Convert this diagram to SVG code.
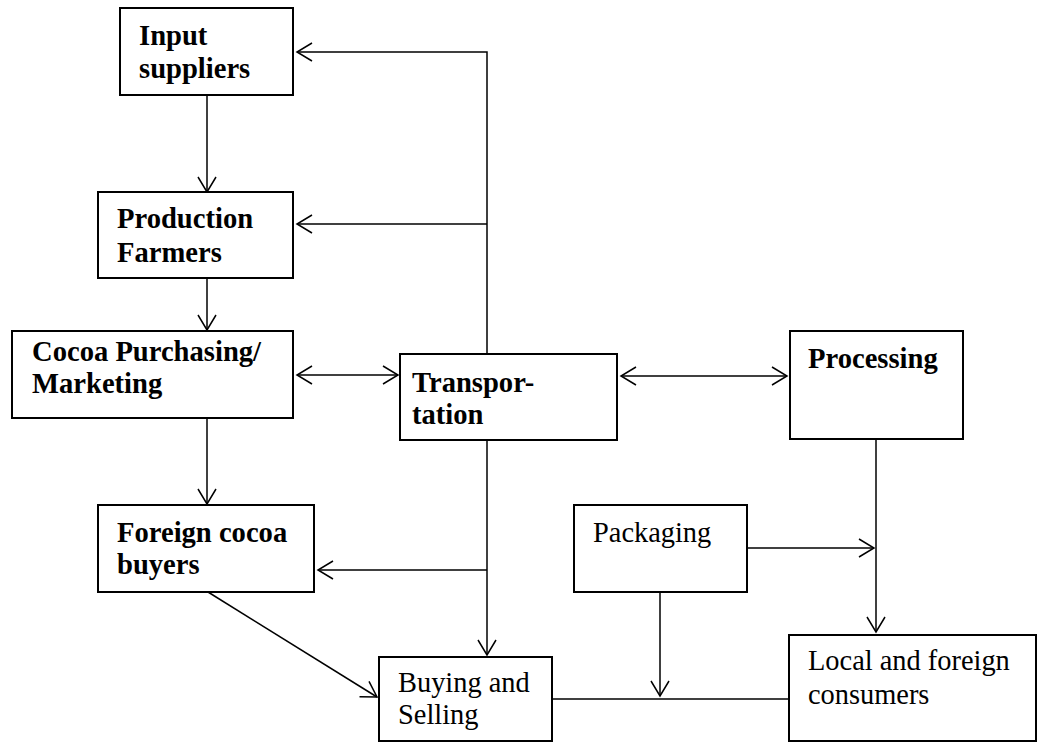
<svg xmlns="http://www.w3.org/2000/svg" width="1040" height="743" viewBox="0 0 1040 743">
  <style>
    .box { fill: #fff; stroke: #000; stroke-width: 2; }
    .b { font-family: "Liberation Serif", "Times New Roman", serif; font-size: 28.6px; font-weight: bold; fill: #000; }
    .r { font-family: "Liberation Serif", "Times New Roman", serif; font-size: 28.4px; fill: #000; }
    .ln { fill: none; stroke: #000; stroke-width: 1.5; }
  </style>
  <defs>
    <marker id="arr" markerUnits="userSpaceOnUse" markerWidth="20" markerHeight="20" viewBox="-16 -10 18 20" refX="0" refY="0" orient="auto-start-reverse">
      <path d="M-15,-9 L0,0 L-15,9" fill="none" stroke="#000" stroke-width="1.5"/>
    </marker>
  </defs>
  <rect width="1040" height="743" fill="#fff"/>

  <g id="connectors">
    <!-- supply chain down the left column -->
    <line class="ln" x1="207" y1="95" x2="207" y2="192" marker-end="url(#arr)"/>
    <line class="ln" x1="207" y1="278" x2="207" y2="330" marker-end="url(#arr)"/>
    <line class="ln" x1="207" y1="418" x2="207" y2="504" marker-end="url(#arr)"/>
    <!-- transportation trunk upward with branches -->
    <polyline class="ln" points="487,354 487,52 297,52" marker-end="url(#arr)"/>
    <line class="ln" x1="487" y1="224" x2="297" y2="224" marker-end="url(#arr)"/>
    <!-- two-way links -->
    <line class="ln" x1="297" y1="375" x2="398" y2="375" marker-start="url(#arr)" marker-end="url(#arr)"/>
    <line class="ln" x1="621" y1="376" x2="787" y2="376" marker-start="url(#arr)" marker-end="url(#arr)"/>
    <!-- transportation trunk downward -->
    <line class="ln" x1="487" y1="440" x2="487" y2="655" marker-end="url(#arr)"/>
    <line class="ln" x1="487" y1="570" x2="318" y2="570" marker-end="url(#arr)"/>
    <!-- foreign buyers to buying and selling -->
    <line class="ln" x1="208" y1="592" x2="377" y2="697" marker-end="url(#arr)"/>
    <!-- processing to consumers -->
    <line class="ln" x1="876" y1="439" x2="876" y2="632" marker-end="url(#arr)"/>
    <line class="ln" x1="747" y1="548" x2="874" y2="548" marker-end="url(#arr)"/>
    <!-- packaging into the market line -->
    <line class="ln" x1="660" y1="592" x2="660" y2="696" marker-end="url(#arr)"/>
    <line class="ln" x1="552" y1="699" x2="789" y2="699"/>
  </g>

  <g id="input-suppliers">
    <rect class="box" x="120" y="8" width="173" height="87"/>
    <text class="b" x="139" y="45">Input</text>
    <text class="b" x="139" y="78">suppliers</text>
  </g>
  <g id="production-farmers">
    <rect class="box" x="98" y="192" width="195" height="86"/>
    <text class="b" x="117" y="228">Production</text>
    <text class="b" x="117" y="262">Farmers</text>
  </g>
  <g id="cocoa-purchasing">
    <rect class="box" x="12" y="331" width="281" height="87"/>
    <text class="b" x="32" y="361">Cocoa Purchasing/</text>
    <text class="b" x="32" y="393">Marketing</text>
  </g>
  <g id="transportation">
    <rect class="box" x="400" y="354" width="217" height="86"/>
    <text class="b" x="412" y="392">Transpor-</text>
    <text class="b" x="412" y="424">tation</text>
  </g>
  <g id="processing">
    <rect class="box" x="790" y="331" width="173" height="108"/>
    <text class="b" x="808" y="368">Processing</text>
  </g>
  <g id="foreign-buyers">
    <rect class="box" x="98" y="505" width="216" height="87"/>
    <text class="b" x="117" y="542">Foreign cocoa</text>
    <text class="b" x="117" y="574">buyers</text>
  </g>
  <g id="packaging">
    <rect class="box" x="574" y="505" width="173" height="87"/>
    <text class="r" x="593" y="542">Packaging</text>
  </g>
  <g id="buying-selling">
    <rect class="box" x="379" y="657" width="173" height="84"/>
    <text class="r" x="398" y="692">Buying and</text>
    <text class="r" x="398" y="724">Selling</text>
  </g>
  <g id="consumers">
    <rect class="box" x="789" y="635" width="247" height="106"/>
    <text class="r" x="808" y="670">Local and foreign</text>
    <text class="r" x="808" y="704">consumers</text>
  </g>
</svg>
